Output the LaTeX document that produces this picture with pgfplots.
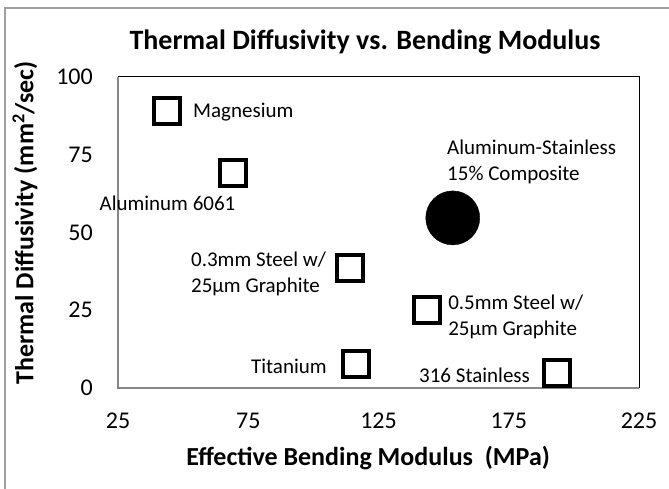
\documentclass[border=0pt]{standalone}
\usepackage{fontspec}
\setmainfont{Carlito}
\usepackage{pgfplots}
\pgfplotsset{compat=1.18}
\definecolor{axgray}{RGB}{134,134,134}
\definecolor{framegray}{RGB}{160,160,160}
\begin{document}
\begin{tikzpicture}[x=1pt,y=1pt]
\path[use as bounding box] (0,0) rectangle (669,489);
\draw[framegray, line width=1.5pt] (5,0) -- (5,481) -- (669,481);
\begin{axis}[
  at={(118pt,101pt)}, anchor=south west,
  width=521pt, height=311pt, scale only axis,
  xmin=25, xmax=225, ymin=0, ymax=100,
  xtick={25,75,125,175,225}, ytick={0,25,50,75,100},
  tick style={draw=none},
  axis line style={draw=none},
  clip=false,
  /pgf/number format/assume math mode=true,
  ticklabel style={font=\fontsize{24}{28}\selectfont},
  xticklabel style={inner sep=0pt, anchor=north, yshift=-25pt},
  yticklabel style={inner sep=0pt, anchor=east, xshift=-25pt},
  title={Thermal Diffusivity vs. Bending Modulus},
  title style={font=\fontsize{28}{32}\bfseries, at={(axis description cs:0.474,1.0707)}, anchor=base, inner sep=0pt},
  xlabel={Effective Bending Modulus\ \ (MPa)},
  xlabel style={font=\fontsize{26}{30}\bfseries, at={(axis description cs:0.48,-0.2476)}, anchor=base, inner sep=0pt},
  ylabel={Thermal Diffusivity (mm\textsuperscript{2}/sec)},
  ylabel style={font=\fontsize{26}{30}\bfseries, at={(axis description cs:-0.1785,0.531)}, anchor=center, inner sep=0pt, rotate=0},
]
\draw[black, line width=1pt] (rel axis cs:0,1) -- (rel axis cs:1,1) -- (rel axis cs:1,0);
\draw[axgray, line width=2pt] (rel axis cs:0,1) -- (rel axis cs:0,0) -- (rel axis cs:1,0);
\addplot[only marks, mark=square, mark size=13pt, line width=4pt, black, mark options={fill=white}]
  coordinates {(44,89.1) (69,69.1) (114.2,38.6) (143.5,25.1) (116.2,7.7) (193.5,4.8)};
\addplot[only marks, mark=*, mark size=27pt, black, mark options={fill=black}]
  coordinates {(153.5,54.7)};
\begin{scope}[every node/.style={font=\fontsize{21}{26}\selectfont, inner sep=0pt}]
\node[anchor=west] at (axis cs:53.8,88.7) {Magnesium};
\node[anchor=center] at (axis cs:44.0,59.5) {Aluminum 6061};
\node[anchor=west, align=left] at (axis cs:151.3,72.7) {Aluminum-Stainless\\15\% Composite};
\node[anchor=west, align=left] at (axis cs:53.0,36.7) {0.3mm Steel w/\\25µm Graphite};
\node[anchor=west, align=left] at (axis cs:151.7,23.0) {0.5mm Steel w/\\25µm Graphite};
\node[anchor=east] at (axis cs:105.2,7.1) {Titanium};
\node[anchor=east] at (axis cs:183.2,4.2) {316 Stainless};
\end{scope}
\end{axis}
\end{tikzpicture}
\end{document}
